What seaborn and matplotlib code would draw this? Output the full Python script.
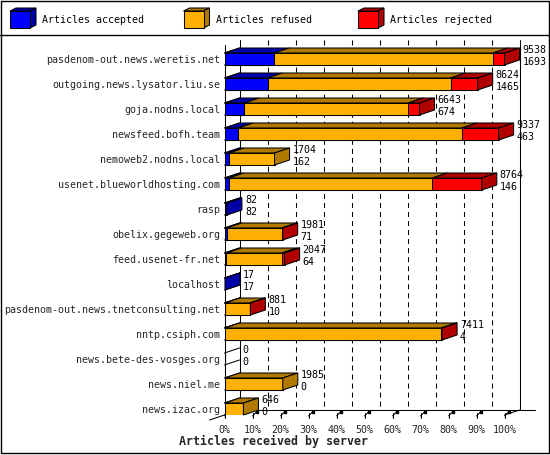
import numpy as np
import pandas as pd
import matplotlib
matplotlib.use("Agg")
import matplotlib.pyplot as plt
import seaborn as sns
from matplotlib.patches import Polygon

# ---------------- data ----------------
servers = [
    "pasdenom-out.news.weretis.net",
    "outgoing.news.lysator.liu.se",
    "goja.nodns.local",
    "newsfeed.bofh.team",
    "nemoweb2.nodns.local",
    "usenet.blueworldhosting.com",
    "rasp",
    "obelix.gegeweb.org",
    "feed.usenet-fr.net",
    "localhost",
    "pasdenom-out.news.tnetconsulting.net",
    "nntp.csiph.com",
    "news.bete-des-vosges.org",
    "news.niel.me",
    "news.izac.org",
]
totals = [9538, 8624, 6643, 9337, 1704, 8764, 82, 1981, 2047, 17, 881, 7411, 0, 1985, 646]
accepted = [1693, 1465, 674, 463, 162, 146, 82, 71, 64, 17, 10, 4, 0, 0, 0]
refused = [7450, 6235, 5580, 7620, 1542, 6930, 0, 1880, 1890, 0, 860, 7377, 0, 1985, 646]
rejected = [395, 924, 389, 1254, 0, 1688, 0, 30, 93, 0, 11, 30, 0, 0, 0]
series_names = ["Articles accepted", "Articles refused", "Articles rejected"]
tick_labels = [f"{k}%" for k in range(0, 101, 10)]
xlabel_text = "Articles received by server"

# ---------------- style ----------------
sns.set_theme(style="white")
plt.rcParams["font.family"] = ["DejaVu Sans Mono"]
plt.rcParams["lines.scale_dashes"] = False

BLUE, BLUE_D = "#0000FF", "#0000A8"
ORANGE, ORANGE_D = "#FFB000", "#B07A00"
RED, RED_D = "#FF0000", "#B00000"
FRONT = [BLUE, ORANGE, RED]
DARK = [BLUE_D, ORANGE_D, RED_D]
LW = 0.75
FS = 7.2

W, H = 550, 455
fig = plt.figure(figsize=(W / 100, H / 100), dpi=100)
fig.patch.set_facecolor("white")

# geometry (pixels)
X0, PX_PER_PCT = 224.5, 2.8
TOP, FLOOR = 40, 415
ROW0, PITCH = 59, 25
xmax = (520 - X0) / PX_PER_PCT
ax = fig.add_axes([X0 / W, 1 - FLOOR / H, (520 - X0) / W, (FLOOR - TOP) / H])
ax.patch.set_alpha(0)

DX = 15 / PX_PER_PCT        # depth in x (data units)
DY = 5 / PITCH              # depth in y (rows)
BH = 12 / PITCH             # bar height (rows)
ytop_lim = (TOP - ROW0) / PITCH
yfloor = (FLOOR - ROW0) / PITCH
yfloor_back = yfloor - DY

tot = np.array(totals, float)
mx = tot.max()
acc = np.array(accepted) / mx * 100
ref = np.array(refused) / mx * 100
rej = np.array(rejected) / mx * 100
df = pd.DataFrame({
    "server": servers,
    "acc": acc,
    "acc_ref": acc + ref,
    "total": acc + ref + rej,
})

# back wall gridlines (behind)
for k in range(1, 10):
    ax.plot([10 * k + DX] * 2, [ytop_lim, yfloor_back], color="black", lw=LW,
            ls=(0, (3.6, 2.9)), zorder=0.3, clip_on=False)
# back wall verticals and floor
ax.plot([DX, DX], [ytop_lim, yfloor_back], color="black", lw=LW, zorder=0.3, clip_on=False)
ax.plot([100 + DX, 100 + DX], [ytop_lim, yfloor_back], color="black", lw=LW, zorder=0.3, clip_on=False)
ax.plot([DX, 100 + 2 * DX], [yfloor_back, yfloor_back], color="black", lw=LW, zorder=0.3, clip_on=False)
ax.plot([100, 100 + DX], [yfloor, yfloor_back], color="black", lw=LW, zorder=0.3, clip_on=False)
ax.plot([0, 0], [ytop_lim + DY, yfloor], color="black", lw=LW, zorder=0.3, clip_on=False)
ax.plot([-DX, DX], [yfloor + DY, yfloor_back], color="black", lw=LW, zorder=0.3, clip_on=False)
# left wall slants at each bar edge
for i in range(len(servers)):
    for yy in (i - BH / 2, i + BH / 2):
        ax.plot([0, DX], [yy, yy - DY], color="black", lw=LW, zorder=0.4, clip_on=False)
# floor tick marks
for k in range(0, 11):
    x = 10 * k
    ax.plot([x, x], [yfloor - 2 / PITCH, yfloor + 3 / PITCH], color="black", lw=LW,
            zorder=0.4, clip_on=False)
    ax.plot([x, x + 4 / PX_PER_PCT], [yfloor + 1 / PITCH, yfloor - 3 / PITCH],
            color="black", lw=LW, zorder=0.4, clip_on=False)
    ax.plot([x + 4.5 / PX_PER_PCT], [yfloor - 3.5 / PITCH], marker="s", ms=1.6,
            color="black", zorder=0.4, clip_on=False)

# front faces: cumulative bars drawn back to front
for col, c in [("total", RED), ("acc_ref", ORANGE), ("acc", BLUE)]:
    sns.barplot(data=df, x=col, y="server", orient="h", color=c, saturation=1,
                edgecolor="black", linewidth=LW, width=BH, errorbar=None, ax=ax,
                zorder=1)

# top and side faces
segs = np.vstack([acc, ref, rej]).T
for i in range(len(servers)):
    top = i - BH / 2
    bot = i + BH / 2
    start = 0.0
    last = None
    for j in range(3):
        w = segs[i, j]
        if w <= 0:
            continue
        a, b = start, start + w
        ax.add_patch(Polygon([(a, top), (b, top), (b + DX, top - DY), (a + DX, top - DY)],
                             closed=True, facecolor=DARK[j], edgecolor="black",
                             lw=LW, zorder=2, clip_on=False))
        start = b
        last = j
    if last is not None:
        e = start
        ax.add_patch(Polygon([(e, top), (e, bot), (e + DX, bot - DY), (e + DX, top - DY)],
                             closed=True, facecolor=DARK[last], edgecolor="black",
                             lw=LW, zorder=2, clip_on=False))
    e = start
    tx = e + DX + 3 / PX_PER_PCT
    ax.text(tx, i - 9 / PITCH, str(totals[i]), fontsize=FS, ha="left", va="center",
            color="black", clip_on=False, zorder=3)
    ax.text(tx, i + 3 / PITCH, str(accepted[i]), fontsize=FS, ha="left", va="center",
            color="black", clip_on=False, zorder=3)

ax.set_xlim(0, xmax)
ax.set_ylim(yfloor, ytop_lim)
ax.set_xticks(np.arange(0, 101, 10))
ax.set_xticklabels(tick_labels, fontsize=FS)
ax.tick_params(axis="x", length=0, pad=7)
ax.tick_params(axis="y", length=0, pad=3.2, labelsize=FS)
ax.set_ylabel("")
ax.set_xlabel(xlabel_text, fontsize=8.4, fontweight="bold")
ax.xaxis.set_label_coords((273.5 - X0) / (520 - X0), -(441 - FLOOR) / (FLOOR - TOP))
ax.xaxis.label.set_va("center")
for s in ax.spines.values():
    s.set_visible(False)
ax.grid(False)

# overlay: border, separator, legend
oax = fig.add_axes([0, 0, 1, 1], zorder=-1)
oax.set_xlim(0, W)
oax.set_ylim(H, 0)
oax.axis("off")
oax.plot([0.5, 548.5, 548.5, 0.5, 0.5], [0.5, 0.5, 452.5, 452.5, 0.5], color="black", lw=1.0)
oax.plot([0, W], [35, 35], color="black", lw=1.0)
for x0, name, fc, dc in zip([10, 183.5, 358], series_names, FRONT, DARK):
    fx1, fy0, fy1 = x0 + 20, 11, 28
    oax.add_patch(Polygon([(x0, fy0), (fx1, fy0), (fx1 + 6, fy0 - 3), (x0 + 6, fy0 - 3)],
                          closed=True, facecolor=dc, edgecolor="black", lw=LW))
    oax.add_patch(Polygon([(fx1, fy0), (fx1, fy1), (fx1 + 6, fy1 - 3), (fx1 + 6, fy0 - 3)],
                          closed=True, facecolor=dc, edgecolor="black", lw=LW))
    oax.add_patch(Polygon([(x0, fy0), (fx1, fy0), (fx1, fy1), (x0, fy1)],
                          closed=True, facecolor=fc, edgecolor="black", lw=LW))
    oax.text(x0 + 32.5, 20, name, fontsize=FS, ha="left", va="center", color="black")

fig.savefig("out.png", dpi=100, facecolor="white")
